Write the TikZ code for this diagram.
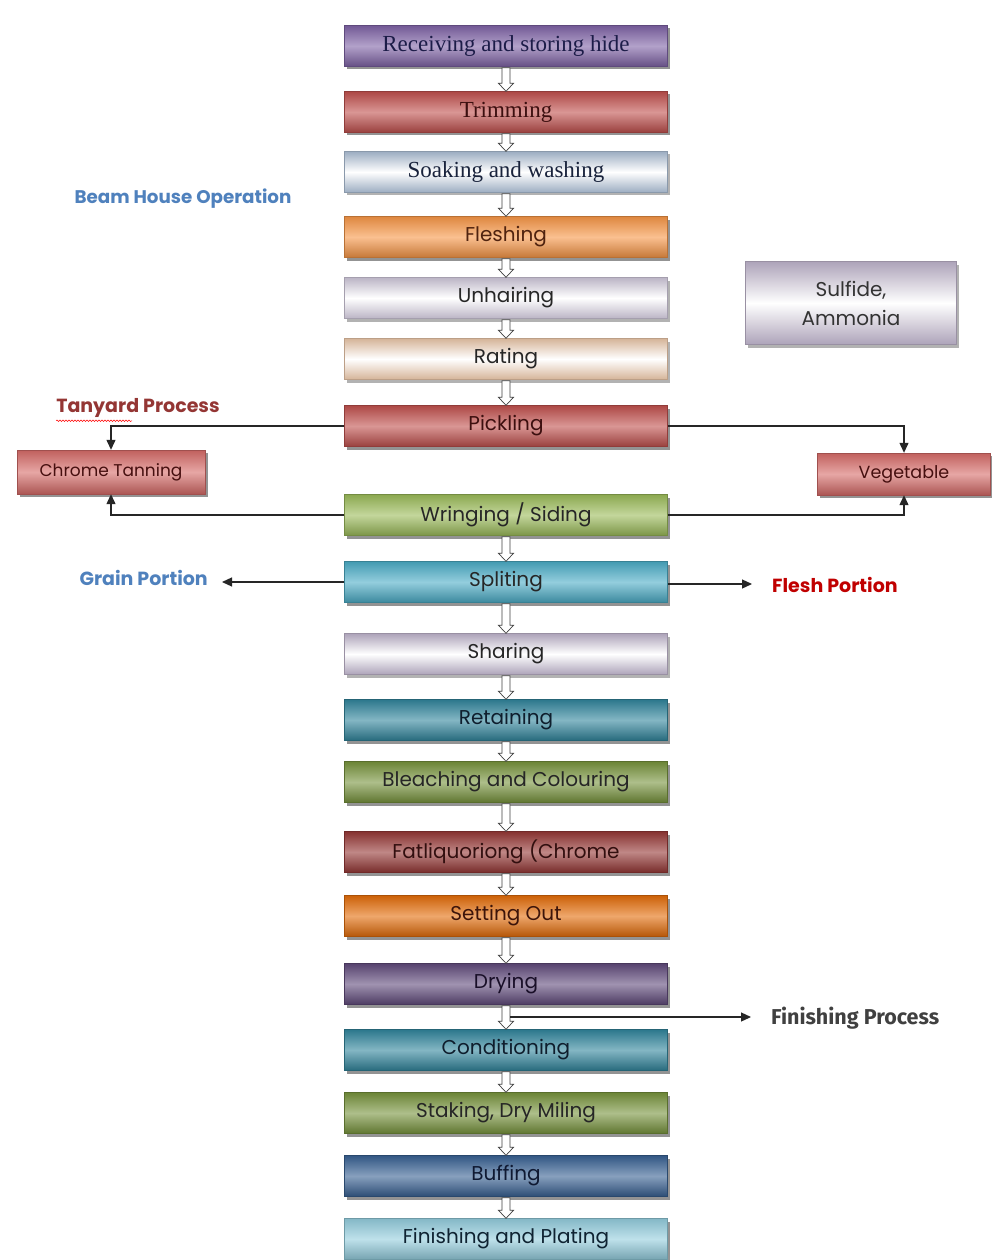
\documentclass[tikz,border=0pt]{standalone}
\usepackage{fontspec}
\setmainfont{Poppins}
\newfontfamily\serifbox{Liberation Serif}
\newfontfamily\condsans{Fira Sans}
\usetikzlibrary{shadows,calc,arrows.meta,decorations.pathmorphing}
\definecolor{cPurple}{HTML}{7F63A6}
\definecolor{cRed}{HTML}{C0504D}
\definecolor{cLRed}{HTML}{D66B68}
\definecolor{cLBlue}{HTML}{B8CCE4}
\definecolor{cOrange}{HTML}{F79646}
\definecolor{cLav}{HTML}{DCD4E8}
\definecolor{cPeach}{HTML}{FBD4B4}
\definecolor{cGreen}{HTML}{9BBB59}
\definecolor{cCyan}{HTML}{4BACC6}
\definecolor{cLav2}{HTML}{CCC0DA}
\definecolor{cTeal}{HTML}{31859C}
\definecolor{cOlive}{HTML}{77933C}
\definecolor{cDRed}{HTML}{953735}
\definecolor{cDOrange}{HTML}{E36C09}
\definecolor{cDPurple}{HTML}{604A7B}
\definecolor{cBlue}{HTML}{376092}
\definecolor{cLCyan}{HTML}{93CDDD}
\definecolor{labBlue}{HTML}{4F81BD}
\definecolor{labRed}{HTML}{943634}
\definecolor{labBright}{HTML}{C00000}
\definecolor{labGray}{HTML}{404040}
\tikzset{
  stepbox/.style={draw=#1!75!black, line width=0.4pt, minimum width=323pt, minimum height=41pt,
    top color=#1!90!black, bottom color=#1!80!black, middle color=#1!60!white,
    drop shadow={shadow xshift=2.5pt, shadow yshift=-3pt, fill=black!70, opacity=0.6},
    font=\fontsize{20}{22}\selectfont, text=black!85, inner sep=0pt},
  lightbox/.style={draw=#1!75!black, line width=0.4pt, minimum width=323pt, minimum height=41pt,
    top color=#1!85!black, bottom color=#1!85!black, middle color=white,
    drop shadow={shadow xshift=2.5pt, shadow yshift=-3pt, fill=black!60, opacity=0.5},
    font=\fontsize{20}{22}\selectfont, text=black!85, inner sep=0pt},
  harrow/.style={draw=black!75, fill=white, line width=0.7pt},
  conn/.style={draw=black!85, line width=1.2pt, -{Triangle[length=10pt,width=9pt]}},
  lab/.style={font=\bfseries\fontsize{19}{21}\selectfont, inner sep=0pt},
}
\newcommand\hollowarrow[2]{%
  \draw[harrow] let \p1=(#1.south), \p2=(#2.north) in
   (\x1-4pt,\y1-1pt) -- (\x1-4pt,\y2+8pt) -- (\x1-7.5pt,\y2+8pt) -- (\x1,\y2) --
   (\x1+7.5pt,\y2+8pt) -- (\x1+4pt,\y2+8pt) -- (\x1+4pt,\y1-1pt) -- cycle;}
\begin{document}
\begin{tikzpicture}[x=1pt,y=-1pt]
\path[use as bounding box, fill=white] (0,0) rectangle (991,1260);
% main column
\node[stepbox=cPurple, font=\serifbox\fontsize{23}{25}\selectfont, text={rgb,255:red,28;green,28;blue,72}] (n1) at (506,46) {Receiving and storing hide};
\node[stepbox=cRed, font=\serifbox\fontsize{23}{25}\selectfont, text={rgb,255:red,60;green,15;blue,15}] (n2) at (506,112) {Trimming};
\node[lightbox=cLBlue, font=\serifbox\fontsize{23}{25}\selectfont, text={rgb,255:red,25;green,35;blue,60}] (n3) at (506,172) {Soaking and washing};
\node[stepbox=cOrange, text={rgb,255:red,80;green,35;blue,15}] (n4) at (506,237) {Fleshing};
\node[lightbox=cLav] (n5) at (506,298) {Unhairing};
\node[lightbox=cPeach] (n6) at (506,359) {Rating};
\node[stepbox=cRed, text={rgb,255:red,60;green,15;blue,15}] (n7) at (506,426) {Pickling};
\node[stepbox=cGreen] (n8) at (506,515) {Wringing / Siding};
\node[stepbox=cCyan] (n9) at (506,582) {Spliting};
\node[lightbox=cLav2] (n10) at (506,654) {Sharing};
\node[stepbox=cTeal, text={rgb,255:red,15;green,30;blue,45}] (n11) at (506,720) {Retaining};
\node[stepbox=cOlive] (n12) at (506,782) {Bleaching and Colouring};
\node[stepbox=cDRed, text={rgb,255:red,50;green,15;blue,15}] (n13) at (506,852) {Fatliquoriong (Chrome};
\node[stepbox=cDOrange, text={rgb,255:red,60;green,20;blue,10}] (n14) at (506,916) {Setting Out};
\node[stepbox=cDPurple, text={rgb,255:red,25;green,15;blue,40}] (n15) at (506,984) {Drying};
\node[stepbox=cTeal, text={rgb,255:red,15;green,30;blue,45}] (n16) at (506,1050) {Conditioning};
\node[stepbox=cOlive] (n17) at (506,1113) {Staking, Dry Miling};
\node[stepbox=cBlue, text={rgb,255:red,15;green,25;blue,50}] (n18) at (506,1176) {Buffing};
\node[stepbox=cLCyan, text={rgb,255:red,15;green,35;blue,50}] (n19) at (506,1239) {Finishing and Plating};
% side boxes
\node[stepbox=cLRed, minimum width=188pt, minimum height=44pt, text={rgb,255:red,70;green,15;blue,15}, font=\fontsize{17}{19}\selectfont] (chrome) at (111,472) {Chrome Tanning};
\node[stepbox=cLRed, minimum width=173pt, minimum height=42pt, text={rgb,255:red,70;green,15;blue,15}, font=\fontsize{17.5}{19}\selectfont] (veg) at (904,474) {Vegetable};
\node[lightbox=cLav2, minimum width=211pt, minimum height=83pt, align=center, font=\fontsize{20}{29}\selectfont, text=black!80] (sulf) at (851,303) {Sulfide,\\Ammonia};
% labels
\node[lab, text=labBlue, font=\bfseries\fontsize{18.3}{20}\selectfont] (beam) at (183,199) {Beam House Operation};
\node[lab, text=labRed] (tan) at (138,408) {Tanyard Process};
\coordinate (tanu) at ($(tan.south west)+(0,3)$);
\draw[red, line width=0.5pt, decorate, decoration={snake, amplitude=0.8pt, segment length=3pt}] (tanu) -- ++(76,0);
\node[lab, text=labBlue, anchor=east] (grain) at (208,578) {Grain Portion};
\node[lab, text=labBright, anchor=west] (flesh) at (772,585) {Flesh Portion};
\node[font=\condsans\bfseries\fontsize{21.5}{23}\selectfont, text=labGray, anchor=west, inner sep=0pt] (finp) at (771,1018) {Finishing Process};
% connectors
\draw[conn] (n7.west) -| (chrome.north);
\draw[conn] (n7.east) -| (veg.north);
\draw[conn] (n8.west) -| (chrome.south);
\draw[conn] (n8.east) -| (veg.south);
\draw[conn, shorten >=14pt] (n9.west) -- (n9.west -| grain.east);
\coordinate (fls) at ($(n9.east)+(0,2)$);
\draw[conn, shorten >=20pt] (fls) -- (fls -| flesh.west);
% hollow arrows
\hollowarrow{n1}{n2}
\hollowarrow{n2}{n3}
\hollowarrow{n3}{n4}
\hollowarrow{n4}{n5}
\hollowarrow{n5}{n6}
\hollowarrow{n6}{n7}
\hollowarrow{n8}{n9}
\hollowarrow{n9}{n10}
\hollowarrow{n10}{n11}
\hollowarrow{n11}{n12}
\hollowarrow{n12}{n13}
\hollowarrow{n13}{n14}
\hollowarrow{n14}{n15}
\hollowarrow{n15}{n16}
\hollowarrow{n16}{n17}
\hollowarrow{n17}{n18}
\hollowarrow{n18}{n19}
\coordinate (fpmid) at ($(n15.south)!0.5!(n16.north)$);
\coordinate (fps) at ($(fpmid)+(4,0)$);
\draw[conn, shorten >=20pt] (fps) -- (fps -| finp.west);
\end{tikzpicture}
\end{document}
